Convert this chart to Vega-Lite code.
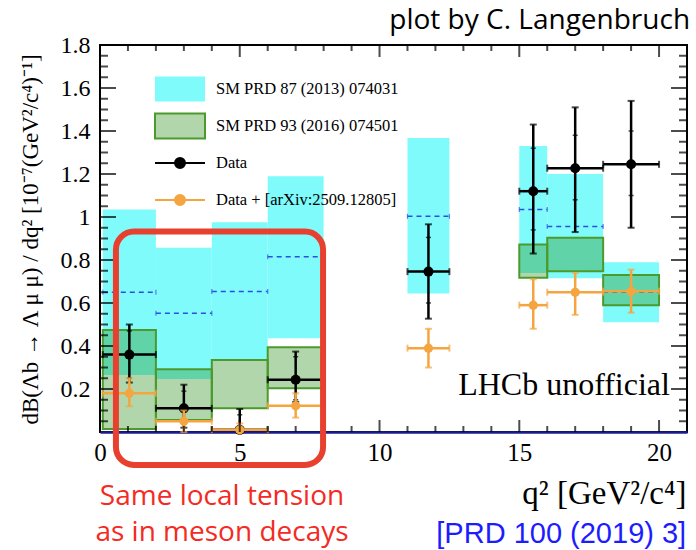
{
  "$schema": "https://vega.github.io/schema/vega-lite/v6.json",
  "width": 587,
  "height": 387,
  "autosize": {"type": "none"},
  "padding": {"left": 100, "top": 45, "right": 9, "bottom": 118},
  "background": "white",
  "config": {"view": {"stroke": "black", "strokeWidth": 2}, "font": "Liberation Serif"},
  "datasets": {
    "bins": [
      {"q2_lo": 0.1, "q2_hi": 2, "q2_mid": 1.05, "sm87": 0.65, "sm87_lo": 0.265, "sm87_hi": 1.035, "sm93_lo": 0.014, "sm93_hi": 0.474, "data": 0.36, "data_lo": 0.23, "data_hi": 0.5, "stat_lo": 0.25, "stat_hi": 0.47, "alt": 0.18, "alt_lo": 0.12, "alt_hi": 0.25},
      {"q2_lo": 2, "q2_hi": 4, "q2_mid": 3, "sm87": 0.552, "sm87_lo": 0.246, "sm87_hi": 0.857, "sm93_lo": 0.056, "sm93_hi": 0.292, "data": 0.11, "data_lo": 0.02, "data_hi": 0.22, "stat_lo": 0.04, "stat_hi": 0.19, "alt": 0.05, "alt_lo": 0.0, "alt_hi": 0.1},
      {"q2_lo": 4, "q2_hi": 6, "q2_mid": 5, "sm87": 0.653, "sm87_lo": 0.33, "sm87_hi": 0.976, "sm93_lo": 0.11, "sm93_hi": 0.335, "data": 0.01, "data_lo": 0.0, "data_hi": 0.107, "stat_lo": 0.0, "stat_hi": 0.08, "alt": 0.01, "alt_lo": 0.0, "alt_hi": 0.04},
      {"q2_lo": 6, "q2_hi": 8, "q2_mid": 7, "sm87": 0.815, "sm87_lo": 0.436, "sm87_hi": 1.19, "sm93_lo": 0.203, "sm93_hi": 0.394, "data": 0.243, "data_lo": 0.14, "data_hi": 0.374, "stat_lo": 0.15, "stat_hi": 0.35, "alt": 0.122, "alt_lo": 0.067, "alt_hi": 0.18},
      {"q2_lo": 11, "q2_hi": 12.5, "q2_mid": 11.75, "sm87": 1.003, "sm87_lo": 0.644, "sm87_hi": 1.367, "data": 0.746, "data_lo": 0.527, "data_hi": 0.966, "stat_lo": 0.6, "stat_hi": 0.905, "alt": 0.39, "alt_lo": 0.3, "alt_hi": 0.48},
      {"q2_lo": 15, "q2_hi": 16, "q2_mid": 15.5, "sm87": 1.035, "sm87_lo": 0.74, "sm87_hi": 1.33, "sm93_lo": 0.718, "sm93_hi": 0.872, "data": 1.12, "data_lo": 0.83, "data_hi": 1.43, "stat_lo": 0.94, "stat_hi": 1.32, "alt": 0.59, "alt_lo": 0.48, "alt_hi": 0.71},
      {"q2_lo": 16, "q2_hi": 18, "q2_mid": 17, "sm87": 0.956, "sm87_lo": 0.715, "sm87_hi": 1.2, "sm93_lo": 0.748, "sm93_hi": 0.904, "data": 1.227, "data_lo": 0.93, "data_hi": 1.51, "stat_lo": 1.08, "stat_hi": 1.38, "alt": 0.65, "alt_lo": 0.545, "alt_hi": 0.74},
      {"q2_lo": 18, "q2_hi": 20, "q2_mid": 19, "sm87": 0.65, "sm87_lo": 0.51, "sm87_hi": 0.79, "sm93_lo": 0.59, "sm93_hi": 0.73, "data": 1.245, "data_lo": 0.95, "data_hi": 1.54, "stat_lo": 1.1, "stat_hi": 1.4, "alt": 0.655, "alt_lo": 0.555, "alt_hi": 0.755}
    ]
  },
  "data": {"name": "bins"},
  "layer": [
    {
      "mark": {"type": "rect"},
      "encoding": {
        "x": {
          "field": "q2_lo", "type": "quantitative",
          "scale": {"domain": [0, 21], "nice": false, "zero": false},
          "axis": {
            "orient": "bottom",
            "values": [0, 5, 10, 15, 20],
            "ticks": false,
            "domainColor": "#1c1c8c", "domainWidth": 2.5,
            "grid": false,
            "labelFont": "Liberation Serif", "labelFontSize": 25, "labelColor": "black",
            "labelPadding": 8, "labelOverlap": false, "labelFlush": false,
            "title": "q² [GeV²/c⁴]",
            "titleFont": "Liberation Serif", "titleFontSize": 33, "titleFontWeight": "normal", "titleColor": "black",
            "titleAlign": "right", "titleBaseline": "alphabetic", "titleX": 586, "titleY": 71
          }
        },
        "x2": {"field": "q2_hi"},
        "y": {
          "field": "sm87_lo", "type": "quantitative",
          "scale": {"domain": [0, 1.8], "nice": false, "zero": false},
          "axis": {
            "orient": "left",
            "values": [0.2, 0.4, 0.6, 0.8, 1, 1.2, 1.4, 1.6, 1.8],
            "format": ".1~f",
            "ticks": false,
            "domain": false,
            "grid": false,
            "labelFont": "Liberation Serif", "labelFontSize": 24, "labelColor": "black",
            "labelPadding": 10, "labelOverlap": false, "labelFlush": false,
            "title": "dB(Λb → Λ μ μ) / dq² [10⁻⁷(GeV²/c⁴)⁻¹]",
            "titleFont": "Liberation Serif", "titleFontSize": 23, "titleFontWeight": "normal", "titleColor": "black",
            "titleAngle": -90, "titleAlign": "center", "titleBaseline": "middle", "titleX": -70, "titleY": 194
          }
        },
        "y2": {"field": "sm87_hi"},
        "color": {
          "datum": "SM PRD 87 (2013) 074031",
          "type": "nominal",
          "scale": {
            "domain": ["SM PRD 87 (2013) 074031", "SM PRD 93 (2016) 074501", "Data", "Data + [arXiv:2509.12805]"],
            "range": ["#7ffbfb", "#2a8c16", "#000000", "#f4a540"]
          },
          "legend": {
            "orient": "none", "legendX": 66.5, "legendY": 30.5,
            "title": null, "padding": 0,
            "gridAlign": "all",
            "symbolSize": 625, "symbolStrokeWidth": 2,
            "labelOffset": 22.5, "rowPadding": 4,
            "labelFont": "Liberation Serif", "labelFontSize": 16.5, "labelColor": "black", "labelLimit": 400,
            "encode": {
              "symbols": {
                "update": {
                  "shape": {"signal": "datum.value == 'Data' || datum.value == 'Data + [arXiv:2509.12805]' ? 'M-2,0H2M-0.4,0A0.4,0.4 0 1,0 0.4,0A0.4,0.4 0 1,0 -0.4,0Z' : 'M-2,-1H2V1H-2Z'"},
                  "fill": {"scale": "color", "field": "value"},
                  "fillOpacity": {"signal": "datum.value == 'SM PRD 93 (2016) 074501' ? 0.36 : 1"},
                  "stroke": {"signal": "datum.value == 'SM PRD 87 (2013) 074031' ? 'transparent' : datum.value == 'SM PRD 93 (2016) 074501' ? '#4c9a2c' : datum.value == 'Data' ? '#000000' : '#f4a540'"},
                  "strokeWidth": {"value": 2},
                  "opacity": {"value": 1}
                }
              }
            }
          }
        }
      }
    },
    {
      "mark": {"type": "rule", "color": "#2d4fe0", "strokeWidth": 1.5, "strokeDash": [5, 4]},
      "encoding": {
        "x": {"field": "q2_lo", "type": "quantitative"},
        "x2": {"field": "q2_hi"},
        "y": {"field": "sm87", "type": "quantitative"}
      }
    },
    {
      "mark": {"type": "tick", "orient": "vertical", "color": "#2d4fe0", "size": 5, "thickness": 1.2},
      "encoding": {
        "x": {"field": "q2_lo", "type": "quantitative"},
        "y": {"field": "sm87", "type": "quantitative"}
      }
    },
    {
      "mark": {"type": "tick", "orient": "vertical", "color": "#2d4fe0", "size": 5, "thickness": 1.2},
      "encoding": {
        "x": {"field": "q2_hi", "type": "quantitative"},
        "y": {"field": "sm87", "type": "quantitative"}
      }
    },
    {
      "transform": [{"filter": "isValid(datum.sm93_lo)"}],
      "mark": {"type": "rect", "fillOpacity": 0.36, "stroke": "#4c9a2c", "strokeWidth": 2},
      "encoding": {
        "x": {"field": "q2_lo", "type": "quantitative"},
        "x2": {"field": "q2_hi"},
        "y": {"field": "sm93_lo", "type": "quantitative"},
        "y2": {"field": "sm93_hi"},
        "color": {"datum": "SM PRD 93 (2016) 074501", "type": "nominal"}
      }
    },
    {
      "mark": {"type": "rule", "color": "black", "strokeWidth": 2.5},
      "encoding": {
        "x": {"field": "q2_mid", "type": "quantitative"},
        "y": {"field": "data_lo", "type": "quantitative"},
        "y2": {"field": "data_hi"}
      }
    },
    {
      "mark": {"type": "rule", "color": "black", "strokeWidth": 2.5},
      "encoding": {
        "x": {"field": "q2_lo", "type": "quantitative"},
        "x2": {"field": "q2_hi"},
        "y": {"field": "data", "type": "quantitative"}
      }
    },
    {
      "mark": {"type": "tick", "orient": "horizontal", "color": "black", "size": 7, "thickness": 2},
      "encoding": {
        "x": {"field": "q2_mid", "type": "quantitative"},
        "y": {"field": "data_hi", "type": "quantitative"}
      }
    },
    {
      "mark": {"type": "tick", "orient": "horizontal", "color": "black", "size": 7, "thickness": 2},
      "encoding": {
        "x": {"field": "q2_mid", "type": "quantitative"},
        "y": {"field": "data_lo", "type": "quantitative"}
      }
    },
    {
      "mark": {"type": "tick", "orient": "horizontal", "color": "black", "size": 5, "thickness": 1.5},
      "encoding": {
        "x": {"field": "q2_mid", "type": "quantitative"},
        "y": {"field": "stat_hi", "type": "quantitative"}
      }
    },
    {
      "mark": {"type": "tick", "orient": "horizontal", "color": "black", "size": 5, "thickness": 1.5},
      "encoding": {
        "x": {"field": "q2_mid", "type": "quantitative"},
        "y": {"field": "stat_lo", "type": "quantitative"}
      }
    },
    {
      "mark": {"type": "tick", "orient": "vertical", "color": "black", "size": 7, "thickness": 2},
      "encoding": {
        "x": {"field": "q2_lo", "type": "quantitative"},
        "y": {"field": "data", "type": "quantitative"}
      }
    },
    {
      "mark": {"type": "tick", "orient": "vertical", "color": "black", "size": 7, "thickness": 2},
      "encoding": {
        "x": {"field": "q2_hi", "type": "quantitative"},
        "y": {"field": "data", "type": "quantitative"}
      }
    },
    {
      "mark": {"type": "point", "filled": true, "opacity": 1, "size": 100},
      "encoding": {
        "x": {"field": "q2_mid", "type": "quantitative"},
        "y": {"field": "data", "type": "quantitative"},
        "color": {"datum": "Data", "type": "nominal"}
      }
    },
    {
      "mark": {"type": "rule", "color": "#f4a540", "strokeWidth": 2.5},
      "encoding": {
        "x": {"field": "q2_mid", "type": "quantitative"},
        "y": {"field": "alt_lo", "type": "quantitative"},
        "y2": {"field": "alt_hi"}
      }
    },
    {
      "mark": {"type": "rule", "color": "#f4a540", "strokeWidth": 2.5},
      "encoding": {
        "x": {"field": "q2_lo", "type": "quantitative"},
        "x2": {"field": "q2_hi"},
        "y": {"field": "alt", "type": "quantitative"}
      }
    },
    {
      "mark": {"type": "tick", "orient": "horizontal", "color": "#f4a540", "size": 7, "thickness": 2},
      "encoding": {
        "x": {"field": "q2_mid", "type": "quantitative"},
        "y": {"field": "alt_hi", "type": "quantitative"}
      }
    },
    {
      "mark": {"type": "tick", "orient": "horizontal", "color": "#f4a540", "size": 7, "thickness": 2},
      "encoding": {
        "x": {"field": "q2_mid", "type": "quantitative"},
        "y": {"field": "alt_lo", "type": "quantitative"}
      }
    },
    {
      "mark": {"type": "tick", "orient": "vertical", "color": "#f4a540", "size": 7, "thickness": 2},
      "encoding": {
        "x": {"field": "q2_lo", "type": "quantitative"},
        "y": {"field": "alt", "type": "quantitative"}
      }
    },
    {
      "mark": {"type": "tick", "orient": "vertical", "color": "#f4a540", "size": 7, "thickness": 2},
      "encoding": {
        "x": {"field": "q2_hi", "type": "quantitative"},
        "y": {"field": "alt", "type": "quantitative"}
      }
    },
    {
      "mark": {"type": "point", "filled": true, "opacity": 1, "size": 85},
      "encoding": {
        "x": {"field": "q2_mid", "type": "quantitative"},
        "y": {"field": "alt", "type": "quantitative"},
        "color": {"datum": "Data + [arXiv:2509.12805]", "type": "nominal"}
      }
    },
    {
      "data": {"values": [{"q2": 0}, {"q2": 5}, {"q2": 10}, {"q2": 15}, {"q2": 20}]},
      "mark": {"type": "tick", "orient": "vertical", "color": "#000000", "size": 12, "thickness": 2, "yOffset": -6},
      "encoding": {
        "x": {"field": "q2", "type": "quantitative"},
        "y": {"datum": 0, "type": "quantitative"}
      }
    },
    {
      "data": {"values": [{"q2": 0}, {"q2": 5}, {"q2": 10}, {"q2": 15}, {"q2": 20}]},
      "mark": {"type": "tick", "orient": "vertical", "color": "#000000", "size": 12, "thickness": 2, "yOffset": 6},
      "encoding": {
        "x": {"field": "q2", "type": "quantitative"},
        "y": {"datum": 1.8, "type": "quantitative"}
      }
    },
    {
      "data": {"values": [{"q2": 1}, {"q2": 2}, {"q2": 3}, {"q2": 4}, {"q2": 6}, {"q2": 7}, {"q2": 8}, {"q2": 9}, {"q2": 11}, {"q2": 12}, {"q2": 13}, {"q2": 14}, {"q2": 16}, {"q2": 17}, {"q2": 18}, {"q2": 19}]},
      "mark": {"type": "tick", "orient": "vertical", "color": "#000000", "size": 6, "thickness": 2, "yOffset": -3},
      "encoding": {
        "x": {"field": "q2", "type": "quantitative"},
        "y": {"datum": 0, "type": "quantitative"}
      }
    },
    {
      "data": {"values": [{"q2": 1}, {"q2": 2}, {"q2": 3}, {"q2": 4}, {"q2": 6}, {"q2": 7}, {"q2": 8}, {"q2": 9}, {"q2": 11}, {"q2": 12}, {"q2": 13}, {"q2": 14}, {"q2": 16}, {"q2": 17}, {"q2": 18}, {"q2": 19}]},
      "mark": {"type": "tick", "orient": "vertical", "color": "#000000", "size": 6, "thickness": 2, "yOffset": 3},
      "encoding": {
        "x": {"field": "q2", "type": "quantitative"},
        "y": {"datum": 1.8, "type": "quantitative"}
      }
    },
    {
      "data": {"values": [{"br": 0.2}, {"br": 0.4}, {"br": 0.6}, {"br": 0.8}, {"br": 1.0}, {"br": 1.2}, {"br": 1.4}, {"br": 1.6}]},
      "mark": {"type": "tick", "orient": "horizontal", "color": "#000000", "size": 16, "thickness": 2, "xOffset": 8},
      "encoding": {
        "y": {"field": "br", "type": "quantitative"},
        "x": {"datum": 0, "type": "quantitative"}
      }
    },
    {
      "data": {"values": [{"br": 0.2}, {"br": 0.4}, {"br": 0.6}, {"br": 0.8}, {"br": 1.0}, {"br": 1.2}, {"br": 1.4}, {"br": 1.6}]},
      "mark": {"type": "tick", "orient": "horizontal", "color": "#000000", "size": 16, "thickness": 2, "xOffset": -8},
      "encoding": {
        "y": {"field": "br", "type": "quantitative"},
        "x": {"datum": 21, "type": "quantitative"}
      }
    },
    {
      "data": {"values": [{"br": 0.05}, {"br": 0.1}, {"br": 0.15}, {"br": 0.25}, {"br": 0.3}, {"br": 0.35}, {"br": 0.45}, {"br": 0.5}, {"br": 0.55}, {"br": 0.65}, {"br": 0.7}, {"br": 0.75}, {"br": 0.85}, {"br": 0.9}, {"br": 0.95}, {"br": 1.05}, {"br": 1.1}, {"br": 1.15}, {"br": 1.25}, {"br": 1.3}, {"br": 1.35}, {"br": 1.45}, {"br": 1.5}, {"br": 1.55}, {"br": 1.65}, {"br": 1.7}, {"br": 1.75}]},
      "mark": {"type": "tick", "orient": "horizontal", "color": "#000000", "size": 8, "thickness": 2, "xOffset": 4},
      "encoding": {
        "y": {"field": "br", "type": "quantitative"},
        "x": {"datum": 0, "type": "quantitative"}
      }
    },
    {
      "data": {"values": [{"br": 0.05}, {"br": 0.1}, {"br": 0.15}, {"br": 0.25}, {"br": 0.3}, {"br": 0.35}, {"br": 0.45}, {"br": 0.5}, {"br": 0.55}, {"br": 0.65}, {"br": 0.7}, {"br": 0.75}, {"br": 0.85}, {"br": 0.9}, {"br": 0.95}, {"br": 1.05}, {"br": 1.1}, {"br": 1.15}, {"br": 1.25}, {"br": 1.3}, {"br": 1.35}, {"br": 1.45}, {"br": 1.5}, {"br": 1.55}, {"br": 1.65}, {"br": 1.7}, {"br": 1.75}]},
      "mark": {"type": "tick", "orient": "horizontal", "color": "#000000", "size": 8, "thickness": 2, "xOffset": -4},
      "encoding": {
        "y": {"field": "br", "type": "quantitative"},
        "x": {"datum": 21, "type": "quantitative"}
      }
    },
    {
      "data": {"values": [{"region": "low q2"}]},
      "mark": {"type": "rect", "fillOpacity": 0, "stroke": "#e8402f", "strokeWidth": 6, "cornerRadius": 18},
      "encoding": {
        "x": {"datum": 0.57, "type": "quantitative"},
        "x2": {"datum": 7.98},
        "y": {"datum": 0.932, "type": "quantitative"},
        "y2": {"datum": -0.153}
      }
    },
    {
      "data": {"values": [{"note": "LHCb unofficial"}]},
      "mark": {"type": "text", "font": "Liberation Serif", "fontSize": 32, "align": "right", "baseline": "alphabetic", "color": "black"},
      "encoding": {
        "x": {"datum": 20.39, "type": "quantitative"},
        "y": {"datum": 0.172, "type": "quantitative"},
        "text": {"field": "note"}
      }
    },
    {
      "data": {"values": [{"note": "plot by C. Langenbruch"}]},
      "mark": {"type": "text", "font": "Open Sans", "fontSize": 28, "align": "right", "baseline": "alphabetic", "color": "black"},
      "encoding": {
        "x": {"datum": 21.11, "type": "quantitative"},
        "y": {"datum": 1.875, "type": "quantitative"},
        "text": {"field": "note"}
      }
    },
    {
      "data": {"values": [{"note": "Same local tension"}]},
      "mark": {"type": "text", "font": "Open Sans", "fontSize": 28, "align": "center", "baseline": "alphabetic", "color": "#f42a23"},
      "encoding": {
        "x": {"datum": 4.365, "type": "quantitative"},
        "y": {"datum": -0.34, "type": "quantitative"},
        "text": {"field": "note"}
      }
    },
    {
      "data": {"values": [{"note": "as in meson decays"}]},
      "mark": {"type": "text", "font": "Open Sans", "fontSize": 28, "align": "center", "baseline": "alphabetic", "color": "#f42a23"},
      "encoding": {
        "x": {"datum": 4.365, "type": "quantitative"},
        "y": {"datum": -0.505, "type": "quantitative"},
        "text": {"field": "note"}
      }
    },
    {
      "data": {"values": [{"note": "[PRD 100 (2019) 3]"}]},
      "mark": {"type": "text", "font": "Liberation Sans", "fontSize": 29, "align": "right", "baseline": "alphabetic", "color": "#1c1cff"},
      "encoding": {
        "x": {"datum": 20.97, "type": "quantitative"},
        "y": {"datum": -0.516, "type": "quantitative"},
        "text": {"field": "note"}
      }
    }
  ]
}
